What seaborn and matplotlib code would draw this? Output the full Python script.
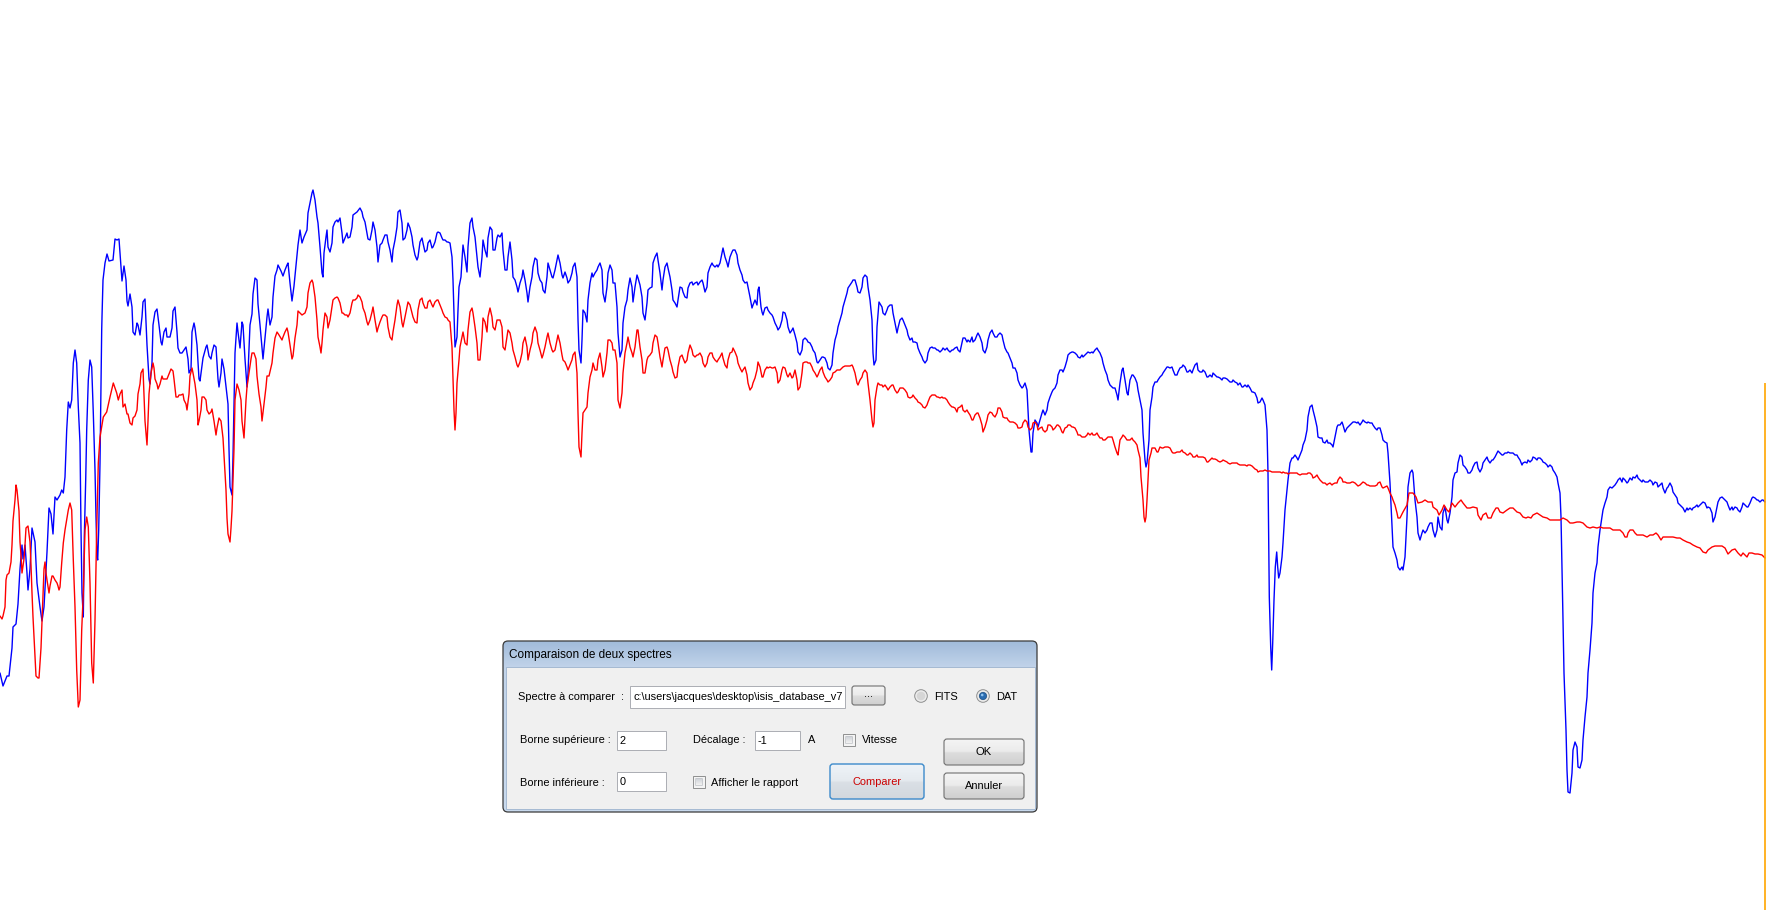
import numpy as np
import matplotlib
matplotlib.use('Agg')
import matplotlib.pyplot as plt
from matplotlib.patches import Rectangle, FancyBboxPatch, Circle
from matplotlib.colors import LinearSegmentedColormap
import seaborn as sns

# Spectrum being compared (blue), sampled along the window width
blue_x = [
    0, 3, 7, 9, 12, 13, 16, 18, 20, 22,
    23, 25, 27, 28, 30, 32, 35, 37, 40, 42,
    44, 47, 49, 51, 53, 55, 57,
    60, 61.7, 63.3, 65, 66.7, 68.3, 70, 71.7, 73.3, 75,
    76.7, 78.3, 80, 81, 82, 83.3, 84.3, 85.7, 86.7, 88.3,
    90, 91.7, 93.3, 95, 96, 97, 97.7, 98.7, 100, 101,
    101.7,
    102, 103, 105, 107, 109, 113, 115, 117, 119, 121,
    122, 124, 126, 127, 128, 130, 132, 133, 135, 137,
    138, 140, 142, 143, 145, 147, 149, 150, 152, 153,
    155, 157, 159, 161, 162, 164, 166, 167, 170, 172,
    173, 175, 177, 178, 180, 182, 184, 186, 188, 189,
    191, 192, 194, 195, 197, 199, 200, 202, 203, 206,
    207, 209, 211, 212, 214, 216, 218, 219, 221, 222,
    224, 226, 228, 229, 230, 232, 233, 234, 235, 237,
    238, 240, 242, 243, 245, 247, 248, 250, 252, 253,
    255, 257, 258, 260, 262, 263, 265, 267, 268, 270,
    272, 273, 275, 277, 278, 281, 283, 285, 287, 288,
    290, 292, 294, 296, 298,
    300, 302, 304, 307, 308, 310, 312, 313, 315, 317,
    318, 320, 322, 323, 324, 326, 327, 328, 330, 332,
    333, 335, 337, 338, 340, 342, 343, 345, 347, 348,
    350, 352, 353, 357, 360, 362, 363, 365, 367, 368,
    370, 372, 373, 375, 377, 378, 380, 382, 383, 385,
    387, 388, 390, 392, 393, 395, 397, 398, 400, 402,
    403, 405, 407, 408, 410, 412, 413, 415, 417, 418,
    420, 422, 423, 425, 427, 428, 430, 432, 433, 435,
    437, 438, 440, 442, 443, 445, 447, 448, 450, 452,
    453, 454, 455, 457, 458, 459, 461, 462, 463, 465,
    467, 468, 470, 472, 473, 475, 477, 478, 480, 482,
    483, 485, 487, 488, 490, 492, 493, 495, 497, 498,
    500, 502, 503, 505, 507, 508, 510, 512, 513, 515,
    517, 518, 520, 522, 523, 525, 527, 528, 530, 532,
    533, 535, 537, 538, 540, 542, 543, 545, 547, 548,
    550, 552, 553, 555, 557, 558, 560, 562, 563, 565,
    567, 568, 570, 572, 573, 575, 577, 578, 579, 581,
    582, 583, 585, 587, 588, 590, 592, 593, 595, 597,
    598,
    600, 602, 603, 605, 607, 608, 610, 612, 613, 615,
    617, 618, 620, 622, 623, 625, 627, 628, 630, 632,
    633, 635, 637, 638, 640, 642, 643, 645, 647, 648,
    650, 652, 653, 655, 657, 658, 660, 662, 663, 665,
    667, 668, 670, 672, 673, 675, 677, 678, 680, 682,
    683, 685, 687, 688, 690, 692, 693, 695, 697, 698,
    700, 702, 703, 705, 707, 708, 710, 712, 713, 715,
    717, 718, 720, 722, 723, 725, 727, 728, 730, 732,
    733, 735, 737, 738, 740, 742, 743, 745, 747, 748,
    750, 752, 753, 755, 757, 758, 759, 761, 762, 763,
    765, 767, 768, 770, 772, 773, 775, 777, 778, 780,
    782, 783, 785, 787, 788, 790, 792, 793, 795, 797,
    798, 800, 802, 803, 805, 807, 808, 810, 812, 813,
    815, 817, 818, 820, 822, 823, 825, 827, 828, 830,
    832, 833, 835, 837, 838, 840, 842, 843, 845, 847,
    848, 850, 852, 853, 855, 857, 858, 860, 862, 863,
    865, 867, 868, 870, 872, 873, 874, 876, 877, 879,
    882, 883, 885, 887, 888, 890, 892, 893, 895, 897,
    898,
    900, 902, 903, 905, 907, 908, 910, 912, 913, 915,
    917, 918, 920, 922, 923, 925, 927, 928, 930, 932,
    933, 935, 937, 938, 940, 942, 943, 945, 947, 948,
    950, 952, 953, 955, 957, 958, 960, 962, 963, 965,
    967, 968, 970, 972, 973, 975, 977, 978, 980, 982,
    983, 985, 987, 988, 990, 992, 993, 995, 997, 998,
    1000, 1002, 1003, 1005, 1007, 1008, 1010, 1012, 1013, 1015,
    1017, 1018, 1020, 1022, 1023, 1025, 1027, 1028, 1029, 1031,
    1032, 1033, 1035, 1037, 1038, 1040, 1042, 1043, 1045, 1047,
    1048, 1050, 1052, 1053, 1055, 1057, 1058, 1060, 1062, 1063,
    1065, 1067, 1068, 1070, 1072, 1073, 1075, 1077, 1078, 1080,
    1082, 1083, 1085, 1087, 1088, 1090, 1092, 1093, 1095, 1097,
    1098, 1100, 1102, 1103, 1105, 1107, 1108, 1110, 1112, 1113,
    1115, 1117, 1118, 1120, 1122, 1123, 1125, 1127, 1128, 1130,
    1132, 1133, 1135, 1137, 1138, 1140, 1142, 1143, 1145, 1146,
    1147, 1149, 1150, 1152, 1153, 1155, 1157, 1158, 1160, 1162,
    1163, 1165, 1167, 1168, 1170, 1172, 1173, 1175, 1177, 1178,
    1180, 1182, 1183, 1185, 1187, 1188, 1190, 1192, 1193, 1195,
    1197, 1198,
    1200, 1202, 1203, 1205, 1207, 1208, 1210, 1212, 1213, 1215,
    1217, 1218, 1220, 1222, 1223, 1225, 1227, 1228, 1230, 1232,
    1233, 1235, 1237, 1238, 1240, 1242, 1243, 1245, 1247, 1248,
    1250, 1252, 1253, 1255, 1257, 1258, 1260, 1262, 1263, 1265,
    1266, 1267, 1268, 1268.7, 1269.3, 1270.7, 1271.7, 1272.7, 1274, 1275.3,
    1276.7, 1277.7, 1278.7, 1280, 1282, 1283, 1285, 1287, 1288, 1290,
    1292, 1293, 1295, 1297, 1298, 1300, 1302, 1303, 1305, 1307,
    1308, 1310, 1312, 1313, 1315, 1317, 1318, 1320, 1322, 1323,
    1325, 1327, 1328, 1330, 1332, 1333, 1335, 1337, 1338, 1340,
    1342, 1343, 1345, 1347, 1348, 1350, 1352, 1353, 1355, 1357,
    1358, 1360, 1362, 1363, 1365, 1367, 1368, 1370, 1372, 1373,
    1375, 1377, 1378, 1380, 1382, 1383, 1385, 1387, 1388, 1390,
    1392, 1393, 1395, 1397, 1398,
    1400, 1402, 1403, 1405, 1407, 1408, 1410, 1412, 1413, 1415,
    1417, 1418, 1420, 1422, 1423, 1425, 1427, 1428, 1430, 1432,
    1433, 1435, 1437, 1438, 1440, 1442, 1443, 1445, 1447, 1448,
    1450, 1452, 1453, 1455, 1457, 1458, 1460, 1462, 1463, 1465,
    1467, 1468, 1470, 1472, 1473, 1475, 1477, 1478, 1480, 1482,
    1483, 1485, 1487, 1488, 1490, 1492, 1493, 1495, 1497, 1498,
    1500, 1502, 1503, 1505, 1507, 1508, 1510, 1512, 1513, 1515,
    1517, 1518, 1520, 1522, 1523, 1525, 1527, 1528, 1530, 1532,
    1533, 1535, 1537, 1538, 1540, 1542, 1543, 1545, 1547, 1548,
    1550, 1552, 1553, 1555, 1557, 1558, 1560, 1561, 1562, 1563,
    1564, 1566, 1567, 1568, 1570, 1572, 1573, 1575, 1577, 1578,
    1580, 1582, 1583, 1585, 1587, 1588, 1590, 1592, 1593, 1595,
    1597, 1598, 1600, 1602, 1603, 1605, 1607, 1608, 1610, 1612,
    1613, 1615, 1617, 1618, 1620, 1622, 1623, 1625, 1627, 1628,
    1630, 1632, 1633, 1635, 1637, 1638, 1640, 1642, 1643, 1645,
    1647, 1648, 1650, 1652, 1653, 1655, 1657, 1658, 1660, 1662,
    1663, 1665, 1667, 1668, 1670, 1672, 1673, 1675, 1677, 1678,
    1680, 1682, 1683, 1685, 1687, 1688, 1690, 1692, 1693, 1695,
    1697, 1698, 1700, 1702, 1703, 1705, 1707, 1708, 1710, 1712,
    1713, 1715, 1717, 1718, 1720, 1722, 1723, 1725, 1727, 1728,
    1730, 1732, 1733, 1735, 1737, 1738, 1740, 1742, 1743, 1745,
    1747, 1748, 1750, 1752, 1753, 1755, 1757, 1758, 1760, 1762,
    1763, 1765,
]
blue_flux = [
    237, 224, 234, 234, 262, 283, 286, 306, 341, 365,
    351, 365, 337, 320, 341, 382, 368, 327, 303, 289,
    303, 358, 402, 396, 376, 413, 410,
    415, 420, 417, 433, 480, 508, 502, 510, 547, 560,
    547, 503, 467, 380, 317, 293, 373, 430, 480, 530,
    550, 543, 497, 440, 393, 353, 350, 380, 447, 530,
    580,
    593, 630, 647, 656, 649, 650, 671, 670, 671, 644,
    629, 644, 630, 609, 604, 616, 603, 578, 575, 587,
    585, 575, 593, 608, 611, 565, 531, 526, 547, 585,
    598, 601, 585, 568, 565, 578, 582, 573, 573, 582,
    599, 603, 578, 562, 557, 557, 560, 563, 551, 537,
    541, 578, 587, 582, 565, 531, 529, 544, 552, 563,
    565, 554, 551, 557, 565, 563, 531, 523, 537, 551,
    541, 523, 506, 461, 423, 415, 454, 506, 557, 587,
    578, 562, 588, 585, 551, 523, 537, 585, 596, 616,
    632, 630, 606, 585, 562, 551, 572, 593, 601, 585,
    593, 613, 634, 640, 645, 639, 634, 640, 645, 647,
    627, 609, 624, 644, 665,
    680, 667, 673, 680, 697, 707, 717, 720, 710, 693,
    687, 663, 637, 633, 657, 673, 680, 663, 658, 667,
    683, 688, 690, 688, 692, 677, 667, 672, 677, 672,
    673, 683, 695, 698, 702, 698, 693, 688, 677, 671,
    670, 680, 688, 680, 663, 648, 665, 667, 670, 675,
    675, 668, 660, 648, 660, 670, 683, 698, 700, 687,
    670, 672, 680, 687, 682, 673, 665, 655, 650, 653,
    668, 672, 667, 658, 660, 667, 670, 662, 663, 668,
    677, 678, 677, 672, 670, 670, 668, 668, 667, 653,
    630, 597, 563, 573, 600, 623, 633, 650, 665, 653,
    638, 663, 687, 692, 683, 673, 653, 643, 633, 653,
    670, 660, 653, 672, 683, 680, 660, 660, 672, 675,
    673, 677, 660, 640, 640, 653, 668, 650, 633, 630,
    623, 618, 627, 633, 640, 630, 617, 608, 623, 633,
    643, 652, 650, 637, 630, 627, 620, 617, 633, 647,
    640, 633, 632, 640, 650, 655, 647, 635, 632, 638,
    632, 627, 630, 637, 643, 647, 633, 590, 560, 547,
    570, 600, 597, 588, 610, 627, 637, 633, 637, 640,
    643,
    647, 640, 617, 608, 623, 637, 645, 640, 627, 627,
    603, 577, 553, 560, 587, 603, 610, 620, 632, 623,
    608, 623, 635, 632, 625, 613, 597, 590, 607, 620,
    622, 623, 647, 653, 657, 650, 637, 620, 630, 643,
    647, 642, 633, 620, 610, 607, 603, 610, 623, 622,
    618, 613, 612, 622, 627, 628, 625, 627, 628, 625,
    628, 630, 627, 618, 623, 637, 643, 647, 645, 643,
    645, 643, 647, 657, 662, 653, 647, 643, 653, 658,
    660, 660, 655, 647, 640, 635, 630, 627, 628, 623,
    613, 602, 605, 610, 605, 620, 623, 603, 598, 595,
    602, 603, 600, 597, 595, 593, 587, 583, 580, 583,
    590, 598, 597, 590, 583, 577, 580, 582, 575, 567,
    558, 555, 560, 570, 572, 570, 568, 567, 563, 560,
    557, 548, 547, 550, 553, 553, 552, 547, 542, 540,
    545, 557, 570, 577, 583, 590, 597, 603, 610, 617,
    622, 625, 628, 630, 630, 623, 618, 617, 623, 632,
    635, 633, 623, 610, 590, 557, 545, 550, 583, 608,
    603, 597, 595, 600, 603, 605, 605, 597, 587, 577,
    582,
    590, 592, 590, 585, 580, 575, 570, 572, 568, 568,
    567, 562, 557, 553, 550, 547, 550, 557, 562, 563,
    562, 562, 560, 560, 558, 560, 562, 560, 562, 560,
    558, 560, 560, 562, 563, 560, 558, 567, 572, 572,
    568, 570, 568, 573, 568, 570, 575, 577, 573, 567,
    560, 557, 563, 570, 577, 580, 577, 573, 573, 575,
    577, 575, 570, 562, 558, 557, 552, 547, 542, 542,
    537, 530, 525, 522, 523, 527, 520, 500, 480, 458,
    458, 477, 490, 487, 483, 490, 497, 500, 495, 500,
    507, 513, 518, 520, 522, 527, 535, 540, 540, 538,
    543, 550, 555, 557, 558, 558, 557, 555, 553, 552,
    555, 553, 555, 557, 558, 557, 558, 557, 560, 562,
    560, 557, 552, 547, 540, 535, 530, 525, 523, 522,
    522, 515, 510, 527, 540, 542, 530, 517, 515, 530,
    535, 535, 532, 527, 520, 510, 500, 477, 450, 443,
    447, 470, 500, 513, 523, 528, 528, 530, 533, 535,
    537, 540, 543, 543, 542, 543, 540, 535, 535, 538,
    542, 543, 545, 543, 538, 538, 540, 537, 540, 545,
    547, 540,
    538, 538, 540, 538, 533, 533, 535, 533, 537, 535,
    533, 533, 532, 530, 532, 532, 531, 530, 528, 528,
    530, 528, 527, 525, 527, 523, 523, 525, 523, 525,
    522, 518, 518, 517, 512, 507, 508, 512, 510, 505,
    493, 480, 437, 373, 313, 263, 240, 267, 310, 343,
    358, 343, 332, 337, 353, 367, 400, 420, 430, 447,
    452, 452, 455, 452, 450, 455, 460, 465, 470, 480,
    493, 503, 505, 500, 492, 483, 473, 472, 472, 468,
    467, 470, 467, 467, 465, 463, 473, 483, 485, 485,
    488, 485, 478, 482, 483, 485, 487, 488, 488, 487,
    488, 485, 488, 490, 488, 487, 488, 487, 487, 485,
    482, 480, 482, 482, 475, 470, 468, 467, 457, 427,
    383, 363, 357, 350, 343,
    340, 343, 340, 353, 393, 423, 437, 440, 437, 410,
    393, 377, 370, 377, 380, 377, 380, 383, 387, 387,
    380, 373, 380, 393, 383, 380, 397, 403, 390, 387,
    397, 413, 430, 437, 438, 447, 455, 453, 445, 443,
    440, 437, 437, 440, 443, 447, 448, 442, 438, 442,
    447, 450, 453, 450, 447, 450, 450, 453, 457, 459,
    457, 455, 455, 457, 457, 458, 457, 457, 457, 455,
    455, 453, 450, 445, 447, 448, 447, 450, 448, 450,
    453, 452, 450, 452, 452, 450, 448, 447, 445, 443,
    445, 443, 440, 437, 433, 427, 417, 393, 343, 290,
    237, 180, 140, 118, 117, 137, 160, 168, 163, 143,
    142, 150, 170, 193, 213, 237, 260, 287, 317, 337,
    347, 363, 380, 393, 400, 407, 413, 420, 423, 422,
    423, 425, 428, 430, 432, 428, 432, 430, 427, 428,
    432, 430, 433, 432, 435, 432, 430, 428, 430, 428,
    428, 428, 430, 428, 425, 428, 427, 423, 425, 427,
    422, 417, 422, 423, 427, 423, 418, 415, 412, 407,
    405, 403, 402, 398, 402, 400, 402, 400, 402, 403,
    405, 403, 405, 407, 408, 407, 402, 403, 402, 397,
    388, 393, 403, 408, 412, 413, 412, 410, 408, 405,
    400, 403, 400, 403, 402, 400, 398, 403, 407, 405,
    403, 403, 407, 412, 413, 412, 410, 410, 408, 410,
    410, 408,
]

# Reference spectrum (red)
red_x = [
    0, 2, 3, 5, 6, 7, 9, 11, 12, 13,
    15, 16, 17, 19, 20, 21, 22, 24, 25, 26,
    28, 30, 31, 32, 33, 35, 36, 38, 39, 41,
    42, 43, 44, 45, 46, 47, 49, 50, 52, 53,
    55, 57, 58, 59,
    60, 61.7, 63.3, 65, 66.7, 68.3, 70, 71.7, 73.3, 75,
    76.7, 78.3, 80, 81.7, 83.3, 85, 86.7, 88.3, 90, 91.7,
    93.3, 95, 96.7, 98.3, 100, 101.7, 103.3, 106.7, 110, 113.3,
    116.7, 118.3,
    120, 122, 123,
    125, 127, 128, 130, 132, 133, 135, 137, 138, 140,
    141, 143, 144, 145, 147, 148, 149, 151, 153, 154,
    155, 157, 158, 160, 162, 163, 165, 167, 169, 171,
    173, 174, 176, 178, 179, 181, 183, 184, 186, 187,
    189, 190, 192, 193, 195, 197, 198, 199, 201, 202,
    204, 206, 207, 209, 211, 212, 214, 216, 217, 219,
    221, 223, 224, 226, 227, 228, 230, 231, 232, 233,
    234, 235, 237, 238, 239, 241, 242, 244, 245, 246,
    247, 249, 251, 252, 254, 256, 257, 259, 261, 262,
    264, 266, 267, 269, 272, 273, 275, 277, 279, 282,
    283, 285, 287, 288, 290, 292, 293, 295, 297, 298,
    300, 302, 305, 307, 308, 310, 312, 313, 315, 317,
    318, 320, 321, 322, 323, 325, 327, 328, 330, 332,
    333, 335, 337, 338, 340, 342, 343, 345, 347, 348,
    350, 352, 353, 355, 357, 358, 360, 362, 363, 365,
    367, 368, 370, 372, 373, 375, 377, 378, 380, 382,
    383, 385, 387, 388, 390, 392, 393, 395, 397, 398,
    400, 402, 403, 405, 407, 408, 410, 412, 413, 415,
    417, 418, 420, 422, 423, 425, 427, 428, 430, 432,
    433, 435, 437, 438, 440, 442, 443, 445, 447, 448,
    450, 452, 453, 454, 455, 456, 457, 459, 460, 462,
    463, 465, 467, 468, 470, 472, 473, 475, 477, 478,
    480, 482, 483, 485, 487, 488, 490, 492, 493, 495,
    497, 498, 500, 502, 503, 505, 507, 508, 510, 512,
    513, 515, 517, 518, 520, 522, 523, 525, 527, 528,
    530, 532, 533, 535, 537, 538, 540, 542, 543, 545,
    547, 548, 550, 552, 553, 555, 557, 558, 560, 562,
    563, 565, 567, 568, 570, 572, 573, 575, 577, 578,
    579, 581, 582, 583, 585, 587, 588, 590, 592, 593,
    595, 597, 598,
    600, 602, 603, 605, 607, 608, 610, 612, 613, 615,
    617, 618, 620, 622, 623, 625, 627, 628, 630, 632,
    633, 635, 637, 638, 640, 642, 643, 645, 647, 648,
    650, 652, 653, 655, 657, 658, 660, 662, 663, 665,
    667, 668, 670, 672, 673, 675, 677, 678, 680, 682,
    683, 685, 687, 688, 690, 692, 693, 695, 697, 698,
    700, 702, 703, 705, 707, 708, 710, 712, 713, 715,
    717, 718, 720, 722, 723, 725, 727, 728, 730, 732,
    733, 735, 737, 738, 740, 742, 743, 745, 747, 748,
    750, 752, 753, 755, 757, 758, 760, 762, 763, 765,
    767, 768, 770, 772, 773, 775, 777, 778, 780, 782,
    783, 785, 787, 788, 790, 792, 793, 795, 797, 798,
    800, 802, 803, 805, 807, 808, 810, 812, 813, 815,
    817, 818, 820, 822, 823, 825, 827, 828, 830, 832,
    833, 835, 837, 838, 840, 842, 843, 845, 847, 848,
    850, 852, 853, 855, 857, 858, 860, 862, 863, 865,
    867, 868, 870, 872, 873, 874, 875, 877, 878, 880,
    882, 883, 885, 887, 888, 890, 892, 893, 895, 897,
    898,
    900, 902, 903, 905, 907, 908, 910, 912, 913, 915,
    917, 918, 920, 922, 923, 925, 927, 928, 930, 932,
    933, 935, 937, 938, 940, 942, 943, 945, 947, 948,
    950, 952, 953, 955, 957, 958, 960, 962, 963, 965,
    967, 968, 970, 972, 973, 975, 977, 978, 980, 982,
    983, 985, 987, 988, 990, 992, 993, 995, 997, 998,
    1000, 1002, 1003, 1005, 1007, 1008, 1010, 1012, 1013, 1015,
    1017, 1018, 1020, 1022, 1023, 1025, 1027, 1028, 1030, 1032,
    1033, 1035, 1037, 1038, 1040, 1042, 1043, 1045, 1047, 1048,
    1050, 1052, 1053, 1055, 1057, 1058, 1060, 1062, 1063, 1065,
    1067, 1068, 1070, 1072, 1073, 1075, 1077, 1078, 1080, 1082,
    1083, 1085, 1087, 1088, 1090, 1092, 1093, 1095, 1097, 1098,
    1100, 1102, 1103, 1105, 1107, 1108, 1110, 1112, 1113, 1115,
    1117, 1118, 1120, 1122, 1123, 1125, 1127, 1128, 1130, 1132,
    1133, 1135, 1137, 1138, 1140, 1141, 1143, 1144, 1145, 1146,
    1147, 1148, 1149, 1151, 1152, 1153, 1155, 1157, 1158, 1160,
    1162, 1163, 1165, 1167, 1168, 1170, 1172, 1173, 1175, 1177,
    1178, 1180, 1182, 1183, 1185, 1187, 1188, 1190, 1192, 1193,
    1195, 1197, 1198,
    1200, 1203, 1205, 1207, 1208, 1210, 1212, 1213, 1215, 1217,
    1218, 1220, 1222, 1223, 1225, 1227, 1228, 1230, 1232, 1233,
    1235, 1237, 1238, 1240, 1242, 1243, 1245, 1247, 1248, 1250,
    1252, 1253, 1255, 1257, 1258, 1260, 1262, 1263, 1265, 1267,
    1268, 1270, 1272, 1273, 1275, 1277, 1278, 1280, 1282, 1283,
    1285, 1287, 1288, 1290, 1292, 1293, 1295, 1297, 1298, 1300,
    1302, 1303, 1305, 1307, 1308, 1310, 1312, 1313, 1315, 1317,
    1318, 1320, 1322, 1323, 1325, 1327, 1328, 1330, 1332, 1333,
    1335, 1337, 1338, 1340, 1342, 1343, 1345, 1347, 1348, 1350,
    1352, 1353, 1355, 1357, 1358, 1360, 1362, 1363, 1365, 1367,
    1368, 1370, 1372, 1373, 1375, 1377, 1378, 1380, 1382, 1383,
    1385, 1387, 1388, 1390, 1392, 1393, 1395, 1397, 1398,
    1400, 1403, 1407, 1409, 1413, 1416, 1418, 1422, 1425, 1428,
    1432, 1433, 1437, 1439, 1442, 1444, 1447, 1449, 1452, 1455,
    1458, 1461, 1463, 1467, 1470, 1473, 1477, 1478, 1481, 1483,
    1486, 1488, 1491, 1493, 1496, 1498, 1500, 1503, 1507, 1510,
    1513, 1517, 1520, 1523, 1526, 1528, 1531, 1533, 1537, 1540,
    1543, 1547, 1550, 1553, 1557, 1560, 1563, 1567, 1570, 1573,
    1577, 1580, 1583, 1587, 1590, 1593, 1597, 1600, 1603, 1607,
    1610, 1613, 1617, 1620, 1623, 1625, 1627, 1628, 1630, 1633,
    1635, 1637, 1640, 1643, 1647, 1650, 1653, 1656, 1658, 1661,
    1663, 1667, 1670, 1673, 1677, 1680, 1683, 1687, 1690, 1693,
    1697, 1700, 1703, 1706, 1708, 1712, 1715, 1718, 1722, 1725,
    1728, 1732, 1735, 1738, 1741, 1743, 1747, 1749, 1752, 1755,
    1758, 1762, 1765,
]
red_flux = [
    294, 291, 294, 303, 330, 335, 337, 348, 365, 389,
    410, 425, 420, 399, 368, 355, 337, 351, 365, 382,
    384, 368, 345, 317, 293, 255, 234, 232, 232, 262,
    289, 317, 341, 348, 337, 330, 317, 324, 334, 334,
    330, 327, 324, 320,
    323, 347, 367, 380, 390, 400, 407, 400, 350, 303,
    240, 203, 210, 280, 317, 380, 393, 383, 327, 247,
    227, 290, 380, 447, 473, 483, 493, 498, 513, 527,
    517, 510,
    516, 520, 503,
    506, 496, 496, 487, 485, 492, 494, 500, 516, 526,
    537, 541, 516, 489, 465, 489, 516, 537, 547, 542,
    531, 526, 521, 526, 534, 531, 531, 531, 536, 541,
    539, 531, 513, 513, 515, 515, 516, 510, 506, 500,
    516, 534, 542, 537, 526, 510, 485, 489, 500, 513,
    513, 510, 500, 496, 498, 501, 489, 475, 482, 492,
    489, 472, 454, 420, 392, 376, 368, 382, 399, 430,
    461, 510, 526, 523, 520, 510, 489, 472, 492, 510,
    523, 537, 551, 557, 557, 551, 534, 516, 503, 489,
    506, 523, 534, 534, 547, 557, 572, 578, 575, 570,
    573, 578, 582, 578, 565, 551, 554, 572, 585, 599,
    597, 595, 597, 603, 617, 627, 630, 627, 613, 590,
    573, 563, 557, 567, 580, 597, 593, 582, 590, 603,
    610, 612, 613, 612, 607, 597, 597, 595, 595, 593,
    597, 607, 610, 610, 612, 615, 613, 608, 602, 597,
    588, 585, 590, 598, 603, 590, 578, 582, 588, 593,
    595, 595, 593, 583, 573, 570, 578, 590, 605, 610,
    603, 587, 583, 593, 603, 608, 605, 597, 593, 588,
    587, 600, 610, 612, 607, 602, 602, 608, 610, 605,
    603, 608, 610, 610, 605, 600, 597, 593, 592, 590,
    588, 563, 530, 500, 480, 497, 527, 550, 563, 573,
    578, 567, 565, 580, 598, 602, 597, 583, 567, 550,
    550, 573, 592, 588, 578, 593, 602, 593, 583, 580,
    590, 590, 590, 583, 563, 560, 573, 580, 577, 567,
    560, 553, 545, 543, 548, 557, 567, 573, 563, 550,
    560, 568, 577, 583, 577, 567, 560, 552, 555, 563,
    573, 577, 567, 560, 558, 560, 570, 575, 567, 555,
    550, 548, 543, 540, 545, 550, 555, 558, 537, 497,
    463, 453, 477, 497, 500, 503, 517, 533, 540, 547,
    540, 540, 550,
    557, 543, 533, 540, 557, 570, 570, 567, 560, 560,
    547, 510, 502, 517, 537, 557, 567, 573, 563, 557,
    553, 563, 580, 580, 563, 550, 537, 537, 550, 553,
    555, 558, 567, 575, 573, 567, 553, 543, 550, 562,
    563, 560, 550, 543, 538, 532, 533, 543, 553, 555,
    552, 547, 550, 557, 565, 560, 555, 553, 555, 555,
    557, 553, 547, 543, 547, 553, 557, 557, 553, 550,
    548, 550, 553, 557, 552, 545, 542, 550, 557, 558,
    562, 558, 553, 547, 542, 538, 540, 543, 535, 527,
    520, 523, 527, 532, 540, 548, 543, 533, 533, 540,
    543, 542, 543, 542, 542, 543, 537, 527, 530, 540,
    543, 542, 535, 533, 537, 532, 533, 540, 530, 520,
    523, 537, 547, 548, 548, 547, 547, 543, 540, 537,
    533, 535, 540, 543, 538, 533, 530, 528, 530, 533,
    537, 538, 540, 540, 540, 542, 543, 544, 544, 544,
    544, 545, 543, 537, 527, 525, 530, 533, 537, 540,
    537, 527, 510, 490, 483, 487, 510, 523, 527, 525,
    525, 523, 525, 522, 520, 523, 525, 525, 520, 517,
    518,
    522, 522, 522, 520, 517, 513, 512, 513, 515, 512,
    510, 508, 507, 505, 503, 502, 505, 508, 513, 515,
    515, 515, 513, 513, 512, 513, 512, 512, 510, 508,
    505, 503, 503, 502, 498, 502, 503, 505, 500, 498,
    500, 498, 495, 490, 490, 495, 497, 497, 492, 485,
    478, 483, 490, 495, 498, 497, 495, 493, 497, 502,
    502, 498, 493, 492, 492, 490, 488, 488, 488, 487,
    485, 482, 482, 483, 487, 490, 488, 483, 480, 482,
    487, 488, 485, 480, 482, 483, 480, 478, 480, 485,
    485, 483, 480, 482, 485, 485, 483, 478, 477, 482,
    483, 485, 485, 483, 483, 482, 478, 475, 475, 473,
    473, 473, 475, 477, 475, 477, 475, 475, 477, 475,
    472, 472, 470, 470, 472, 473, 473, 473, 470, 463,
    457, 455, 470, 473, 475, 473, 470, 470, 470, 472,
    470, 468, 465, 460, 452, 433, 410, 393, 388, 393,
    410, 430, 450, 457, 462, 462, 462, 458, 458, 463,
    462, 462, 463, 463, 463, 462, 458, 457, 457, 458,
    458, 458, 460, 458, 457, 455, 455, 457, 455, 453,
    453, 455, 453,
    453, 453, 452, 448, 448, 450, 452, 451, 451, 450,
    449, 448, 449, 450, 449, 448, 447, 446, 447, 447,
    447, 447, 446, 445, 445, 445, 445, 444, 445, 445,
    444, 443, 441, 440, 438, 439, 439, 439, 440, 439,
    439, 439, 438, 438, 438, 438, 438, 438, 437, 438,
    437, 437, 436, 437, 437, 437, 437, 437, 436, 435,
    436, 436, 436, 436, 437, 437, 435, 432, 433, 435,
    433, 430, 428, 427, 427, 425, 426, 427, 425, 426,
    427, 427, 430, 433, 431, 428, 428, 427, 427, 427,
    428, 428, 427, 425, 424, 425, 427, 428, 427, 425,
    425, 424, 424, 424, 424, 425, 427, 428, 423, 422,
    423, 424, 422, 417, 413, 410, 405, 397, 392,
    392, 398, 405, 417, 417, 413, 407, 408, 410, 408,
    408, 403, 400, 395, 400, 405, 400, 398, 407, 403,
    407, 410, 407, 402, 402, 403, 402, 395, 390, 395,
    397, 392, 392, 397, 402, 402, 398, 397, 400, 402,
    402, 398, 397, 393, 392, 393, 392, 395, 397, 395,
    393, 392, 390, 390, 390, 390, 392, 390, 387, 387,
    388, 388, 387, 383, 382, 383, 382, 383, 382, 382,
    382, 380, 380, 380, 377, 373, 373, 377, 380, 380,
    377, 375, 375, 375, 373, 375, 375, 377, 375, 370,
    373, 373, 373, 373, 372, 372, 370, 368, 367, 365,
    363, 362, 358, 357, 360, 363, 364, 364, 364, 362,
    356, 360, 361, 357, 354, 357, 353, 357, 357, 356,
    356, 355, 352,
]

# Orange cursor line at the right edge
cursor_x = 1765
cursor_top = 527

if len(blue_x) != len(blue_flux) or len(red_x) != len(red_flux):
    raise ValueError(f"length mismatch: blue {len(blue_x)}/{len(blue_flux)}, red {len(red_x)}/{len(red_flux)}")

sns.set_style('white')
plt.rcParams['font.family'] = ['Liberation Sans', 'DejaVu Sans']

W, H = 1766, 910
fig = plt.figure(figsize=(W / 100, H / 100), dpi=100)
fig.patch.set_facecolor('white')

# Spectra
ax = fig.add_axes([0, 0, 1, 1])
sns.lineplot(x=blue_x, y=blue_flux, ax=ax, color='#0000FF', linewidth=1.0,
             estimator=None, sort=False)
sns.lineplot(x=red_x, y=red_flux, ax=ax, color='#FF0000', linewidth=1.0,
             estimator=None, sort=False)
ax.vlines(cursor_x, 0, cursor_top, color='#FFA500', linewidth=1.2)
ax.set_xlim(0, W)
ax.set_ylim(0, H)
ax.axis('off')

# Dialog overlay, drawn in screen pixels (y downward)
ui = fig.add_axes([0, 0, 1, 1])
ui.set_xlim(0, W)
ui.set_ylim(H, 0)
ui.axis('off')
ui.patch.set_alpha(0)


def gradient_box(x0, y0, x1, y1, stops, edge, r=2.5, lw=0.8, z=5):
    patch = FancyBboxPatch((x0, y0), x1 - x0, y1 - y0,
                           boxstyle=f'round,pad=0,rounding_size={r}',
                           facecolor='none', edgecolor=edge, linewidth=lw, zorder=z + 1)
    ui.add_patch(patch)
    cmap = LinearSegmentedColormap.from_list('grad', stops)
    img = ui.imshow(np.linspace(0, 1, 64).reshape(-1, 1), extent=(x0, x1, y1, y0),
                    cmap=cmap, aspect='auto', zorder=z, interpolation='bilinear')
    img.set_clip_path(patch)
    return patch


def label(x, y, s, size=7.9, color='#000000', ha='left', z=20):
    return ui.text(x, y, s, fontsize=size, color=color, ha=ha, va='center', zorder=z)


def field(x0, y0, x1, y1, value=''):
    box = Rectangle((x0, y0), x1 - x0, y1 - y0, facecolor='white',
                    edgecolor='#ABADB3', linewidth=0.7, zorder=8)
    ui.add_patch(box)
    if value:
        t = label(x0 + 3, (y0 + y1) / 2 + 0.5, value)
        t.set_clip_on(True)
        t.set_clip_path(box)


def checkbox(x, y):
    ui.add_patch(Rectangle((x, y), 12, 12, facecolor='#F4F4F4',
                           edgecolor='#8E8F8F', linewidth=0.7, zorder=8))
    gradient_box(x + 2.5, y + 2.5, x + 9.5, y + 9.5,
                 ['#CBCFD5', '#F2F2F2'], '#B0B4BA', r=0.5, lw=0.4, z=9)


def radio(cx, cy, checked=False):
    ui.add_patch(Circle((cx, cy), 6.3, facecolor='#ECECEC', edgecolor='#8E8F8F',
                        linewidth=0.7, zorder=8))
    ui.add_patch(Circle((cx, cy), 4.3, facecolor='#D6D6D6', edgecolor='none', zorder=9))
    if checked:
        ui.add_patch(Circle((cx, cy), 3.6, facecolor='#2B6CB0', edgecolor='#1B4F86',
                            linewidth=0.5, zorder=10))
        ui.add_patch(Circle((cx - 0.8, cy - 1.0), 1.3, facecolor='#8FC3EE',
                            edgecolor='none', zorder=11))


win_btn = [(0, '#F4F4F4'), (0.48, '#EBEBEB'), (0.52, '#DDDDDD'), (1, '#CFCFCF')]
focus_btn = [(0, '#EEF3F8'), (0.48, '#E5EAEF'), (0.52, '#DADFE5'), (1, '#D2D8DE')]

# window frame, title bar and client area
gradient_box(503, 641, 1037, 812, [(0, '#A2BCDB'), (0.15, '#C2D4EA'), (1, '#C9DAEE')],
             '#3A3A3A', r=5, lw=0.9, z=2)
ui.add_patch(Rectangle((505.5, 667), 529, 142, facecolor='#F0F0F0',
                       edgecolor='#9DB3CE', linewidth=0.6, zorder=4))
label(509, 655, 'Comparaison de deux spectres', size=8.5)

# first row: file to compare
label(518, 697, 'Spectre à comparer  :')
field(630, 686, 845, 708, 'c:\\users\\jacques\\desktop\\isis_database_v7')
gradient_box(852, 686, 885, 705, win_btn, '#707070', r=2.5)
label(868.5, 694, '...', ha='center')
radio(921, 696)
label(934, 697, 'FITS')
radio(983, 696, checked=True)
label(996, 697, 'DAT')

# second row
label(520, 740, 'Borne supérieure :')
field(617, 731, 666, 750, '2')
label(693, 740, 'Décalage :')
field(755, 731, 800, 750, '-1')
label(808, 740, 'A')
checkbox(843, 734)
label(862, 740, 'Vitesse')
gradient_box(944, 739, 1024, 765, win_btn, '#707070', r=3)
label(984, 752, 'OK', size=8.1, ha='center')

# third row
label(520, 783, 'Borne inférieure :')
field(617, 772, 666, 791, '0')
checkbox(693, 776)
label(711, 783, 'Afficher le rapport')
gradient_box(830, 764, 924, 799, focus_btn, '#3C8ACB', r=3, lw=1.0)
label(877, 782, 'Comparer', color='#CC0000', ha='center')
gradient_box(944, 773, 1024, 799, win_btn, '#707070', r=3)
label(984, 786, 'Annuler', ha='center')

ui.set_xlim(0, W)
ui.set_ylim(H, 0)

fig.savefig('out.png', dpi=100, facecolor='white')
plt.close(fig)
